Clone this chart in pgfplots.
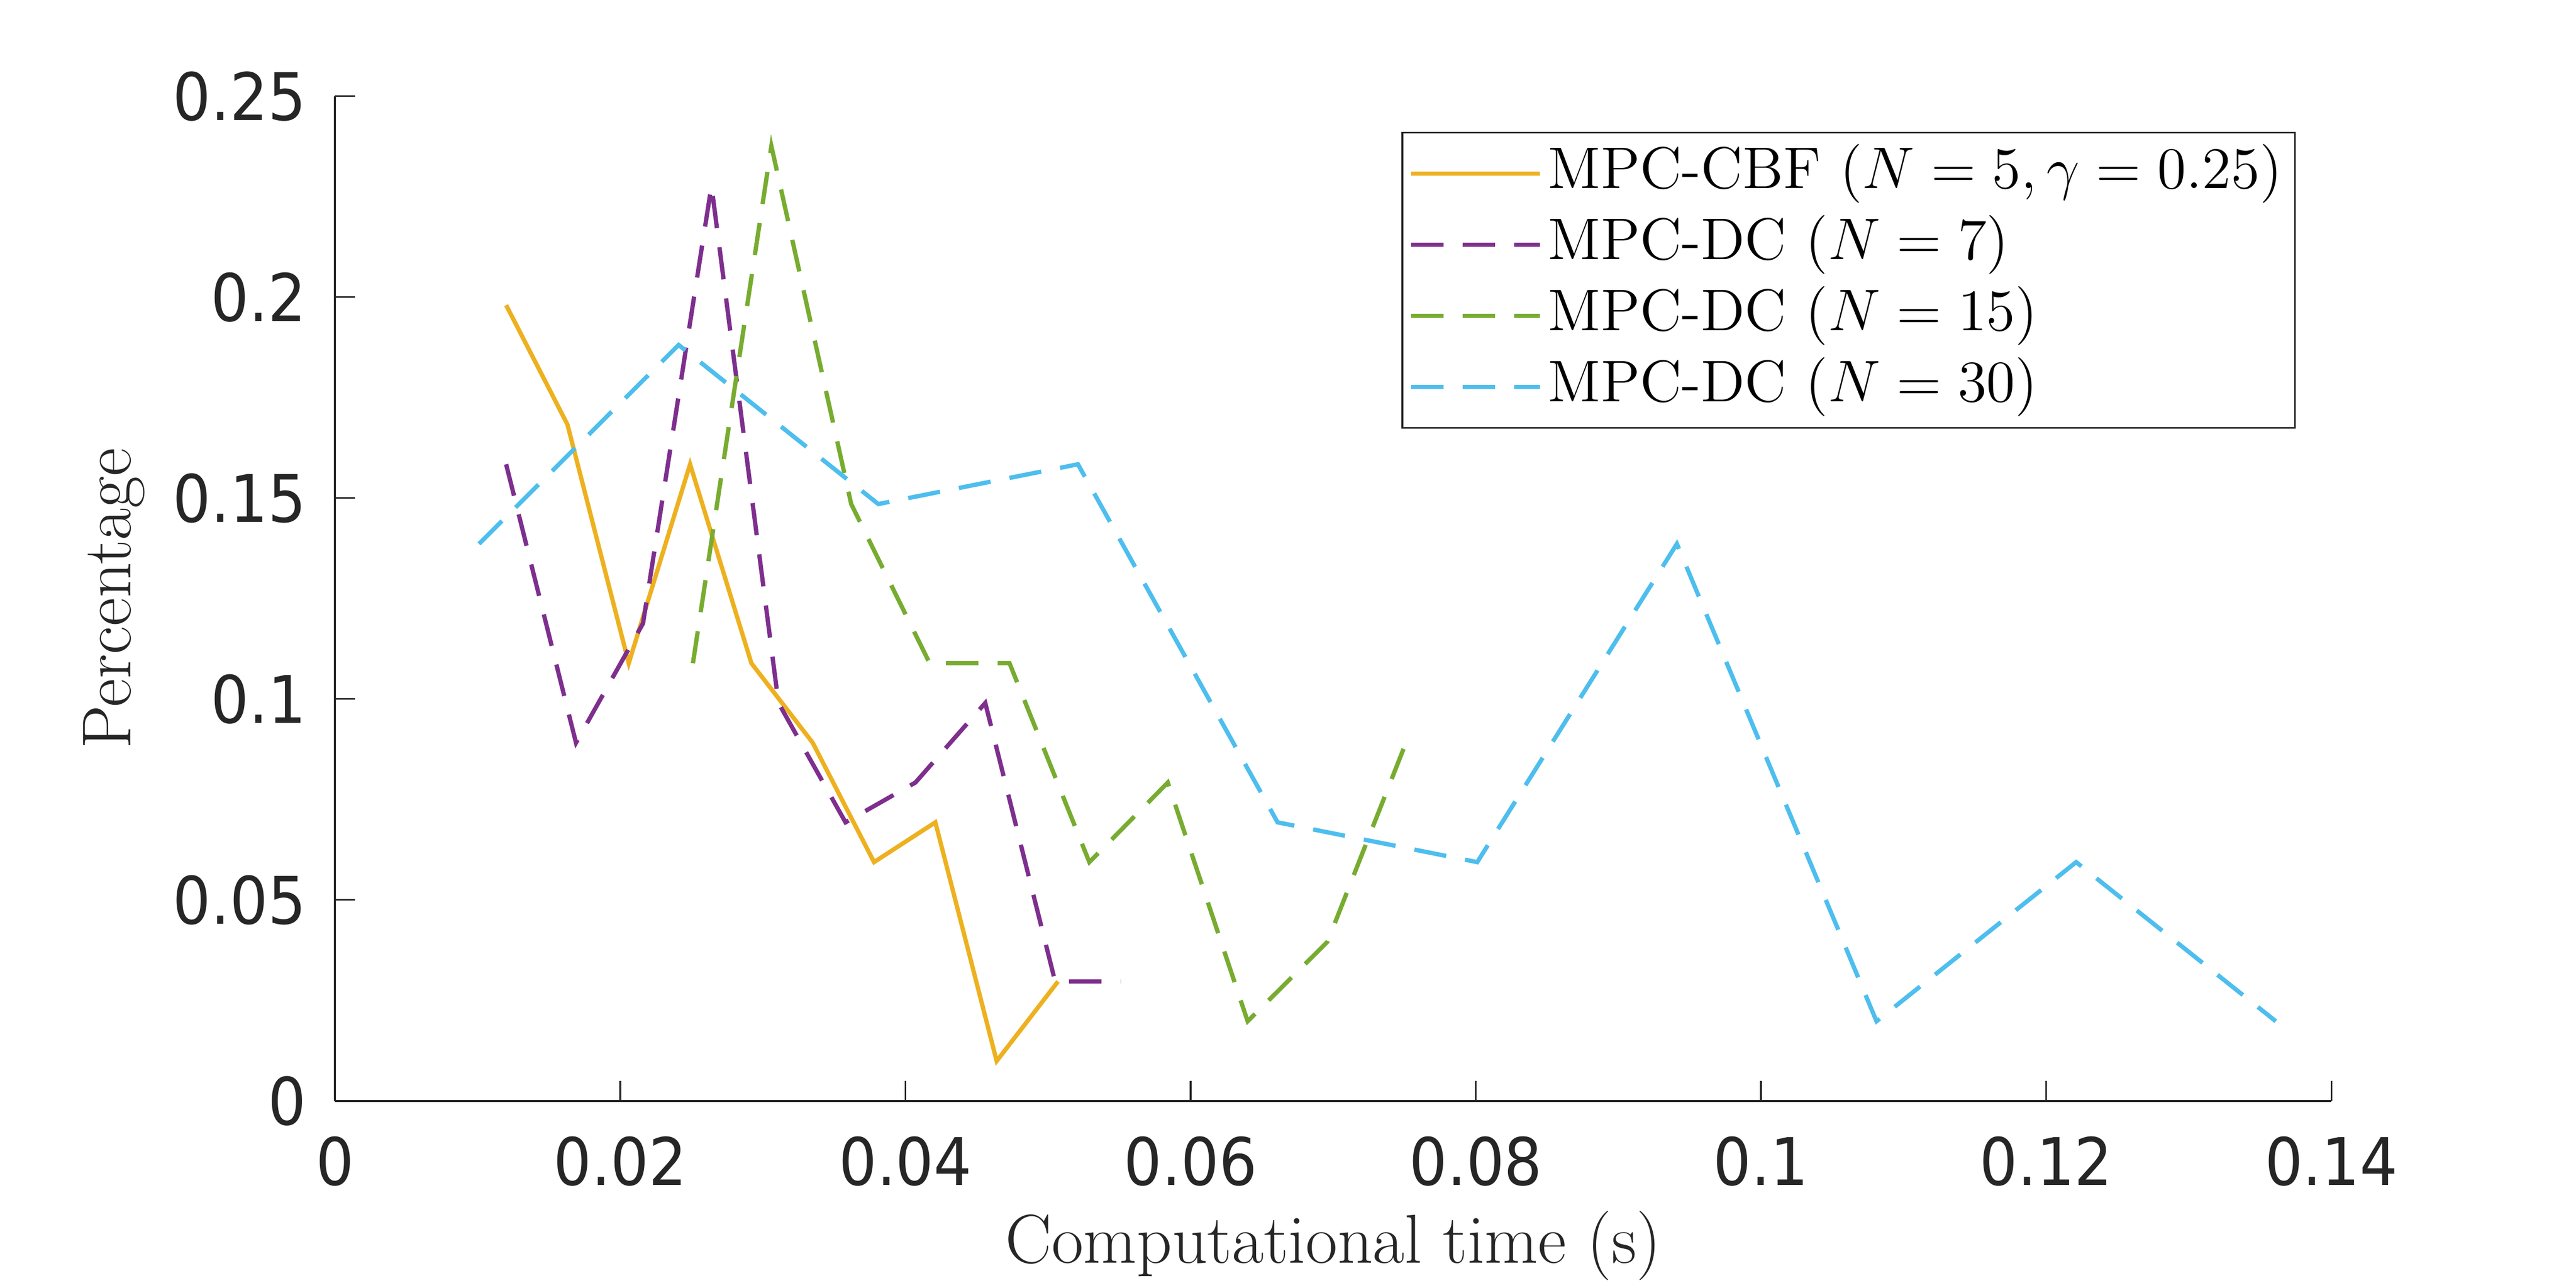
\RequirePackage{fix-cm}
\documentclass[border=0pt]{standalone}
\usepackage{fontspec}
\usepackage{pgfplots}
\pgfplotsset{compat=1.18}
\newfontfamily\tickfont[FakeStretch=0.91]{DejaVu Sans}
\definecolor{mOrange}{rgb}{0.929,0.694,0.125}
\definecolor{mPurple}{rgb}{0.494,0.184,0.556}
\definecolor{mGreen}{rgb}{0.466,0.674,0.188}
\definecolor{mBlue}{rgb}{0.301,0.745,0.933}
\definecolor{axgray}{rgb}{0.15,0.15,0.15}
\begin{document}
\begin{tikzpicture}
\path[use as bounding box] (-2.601cm,-1.453cm) rectangle (17.399cm,8.547cm);
\begin{axis}[
  at={(0,0)}, anchor=south west,
  width=15.50cm, height=7.80cm, scale only axis,
  xmin=0, xmax=0.14, ymin=0, ymax=0.25,
  axis x line=bottom, axis y line=left,
  axis line style={-, draw=axgray, line width=0.45pt},
  every tick/.style={draw=axgray, line width=0.4pt},
  tick align=inside, major tick length=0.155cm,
  xtick={0,0.02,0.04,0.06,0.08,0.1,0.12,0.14},
  ytick={0,0.05,0.1,0.15,0.2,0.25},
  scaled ticks=false,
  /pgf/number format/assume math mode=true,
  /pgf/number format/fixed, /pgf/number format/precision=2,
  tick label style={font=\tickfont\fontsize{14.5}{17}\selectfont, text=axgray, inner sep=4.8pt},
  xticklabel style={yshift=-0.103cm},
  yticklabel style={xshift=-0.05cm},
  label style={font=\fontsize{15.3}{18}\selectfont, text=axgray},
  xlabel={Computational time (s)},
  ylabel={Percentage},
  xlabel style={at={(axis description cs:0.5,-0.1612)}, anchor=base},
  ylabel style={at={(axis description cs:-0.1025,0.5)}, anchor=base},
  legend style={at={(1,1)}, anchor=north east, xshift=-0.276cm, yshift=-0.276cm,
    draw=axgray, line width=0.4pt, font=\fontsize{13}{15.5}\selectfont,
    inner xsep=1.45pt, inner ysep=1.2pt, row sep=0pt, column sep=0pt,
    nodes={inner xsep=1.35pt, inner ysep=1.35pt, text height=9.75pt, text depth=3.25pt}},
  legend cell align=left,
  legend image code/.code={\draw[#1] (0cm,0cm) -- (1.0cm,0cm);},
  every axis plot/.append style={line width=0.95pt},
  clip=false,
]
\addplot[mOrange, solid] coordinates {
 (0.0120,0.1980) (0.0163,0.1683) (0.0206,0.1089) (0.0249,0.1584) (0.0292,0.1089)
 (0.0335,0.0891) (0.0378,0.0594) (0.0421,0.0693) (0.0464,0.0099) (0.0507,0.0297)};
\addlegendentry{MPC-CBF $(N=5,\gamma=0.25)$}
\addplot[mPurple, dash pattern=on 7.15pt off 4.25pt] coordinates {
 (0.0120,0.1584) (0.0169,0.0891) (0.0216,0.1188) (0.0264,0.2277) (0.0311,0.0990)
 (0.0358,0.0693) (0.0407,0.0792) (0.0456,0.0990) (0.0505,0.0297) (0.0551,0.0297)};
\addlegendentry{MPC-DC $(N=7)$}
\addplot[mGreen, dash pattern=on 7.15pt off 4.25pt] coordinates {
 (0.0251,0.1089) (0.0306,0.2376) (0.0362,0.1485) (0.0417,0.1089) (0.0473,0.1089)
 (0.0529,0.0594) (0.0584,0.0792) (0.0640,0.0198) (0.0696,0.0396) (0.0751,0.0891)};
\addlegendentry{MPC-DC $(N=15)$}
\addplot[mBlue, dash pattern=on 7.15pt off 4.25pt] coordinates {
 (0.0101,0.1386) (0.0241,0.1881) (0.0381,0.1485) (0.0521,0.1584) (0.0661,0.0693)
 (0.0801,0.0594) (0.0941,0.1386) (0.1081,0.0198) (0.1221,0.0594) (0.1361,0.0198)};
\addlegendentry{MPC-DC $(N=30)$}
\end{axis}
\end{tikzpicture}
\end{document}
